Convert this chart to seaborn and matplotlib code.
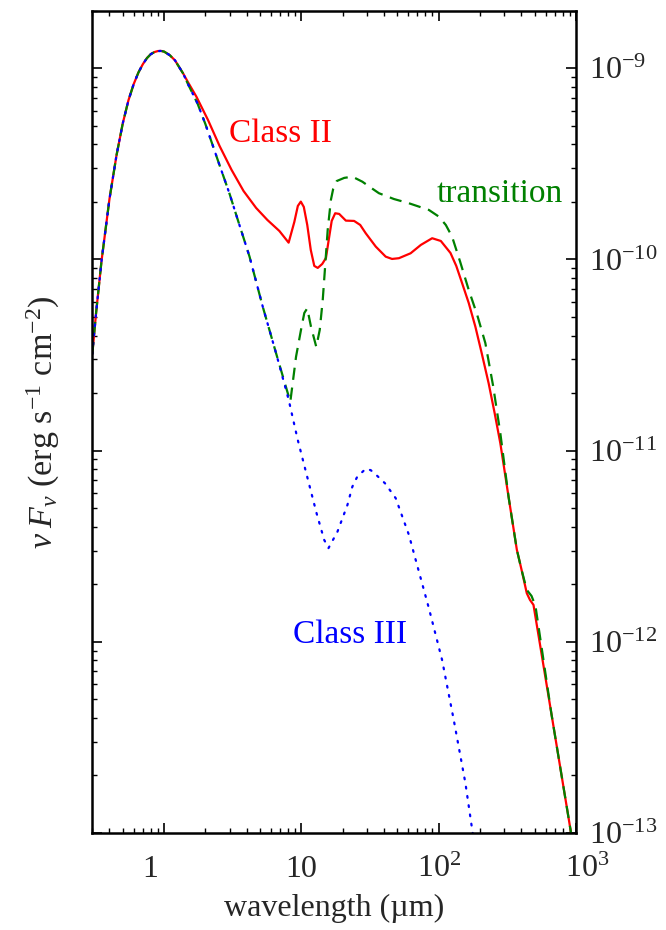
import matplotlib
matplotlib.use("Agg")
import numpy as np
import matplotlib.pyplot as plt
from matplotlib.ticker import FixedLocator, FixedFormatter, LogLocator, LogFormatterMathtext, NullFormatter
from matplotlib.transforms import ScaledTranslation
import seaborn as sns

# wavelength (um) / nu F_nu (erg s^-1 cm^-2)
# Class II (red, solid)
wl_ii = [0.30, 0.32, 0.35, 0.40, 0.45, 0.50, 0.55, 0.60, 0.65, 0.70, 0.75, 0.80, 0.85,
         0.90, 0.95, 1.00, 1.10, 1.20, 1.374, 1.5, 1.719, 2.086, 2.536, 3.10, 3.79, 4.68,
         5.65, 6.91, 8.07, 8.88, 9.42, 9.90, 10.41, 11.03, 11.70, 12.41, 13.15, 14.18,
         15.09, 15.81, 16.62, 17.62, 18.84, 21.07, 24.2, 26.8, 29.4, 34.8, 41.1, 45.7,
         51.3, 62.4, 74.1, 89.6, 103.6, 121.8, 134.2, 147.8, 165.4, 184.9, 205.5, 231,
         255.3, 281, 322.6, 370.7, 402.9, 438, 462, 490, 662, 920, 1000]
flux_ii = [3.2e-11, 5.3e-11, 9.8e-11, 2.07e-10, 3.5e-10, 5.15e-10, 6.8e-10, 8.25e-10,
           9.5e-10, 1.05e-9, 1.13e-9, 1.185e-9, 1.215e-9, 1.23e-9, 1.232e-9, 1.222e-9,
           1.17e-9, 1.1e-9, 9.41e-10, 8.4e-10, 7.10e-10, 5.37e-10, 3.92e-10, 2.94e-10,
           2.28e-10, 1.859e-10, 1.609e-10, 1.409e-10, 1.224e-10, 1.571e-10, 1.905e-10,
           2.006e-10, 1.882e-10, 1.515e-10, 1.121e-10, 9.25e-11, 9.03e-11, 9.47e-11,
           1.018e-10, 1.265e-10, 1.590e-10, 1.744e-10, 1.730e-10, 1.596e-10, 1.590e-10,
           1.515e-10, 1.371e-10, 1.167e-10, 1.034e-10, 1.006e-10, 1.015e-10, 1.077e-10,
           1.191e-10, 1.291e-10, 1.249e-10, 1.081e-10, 9.25e-11, 7.54e-11, 5.92e-11,
           4.45e-11, 3.24e-11, 2.25e-11, 1.575e-11, 1.093e-11, 5.73e-12, 3.03e-12,
           2.35e-12, 1.795e-12, 1.656e-12, 1.56e-12, 4.20e-13, 1.0e-13, 7.68e-14]

# transition disk (green, dashed)
wl_tr = [0.30, 0.32, 0.35, 0.40, 0.45, 0.50, 0.55, 0.60, 0.65, 0.70, 0.75, 0.80, 0.85,
         0.90, 0.95, 1.00, 1.10, 1.20, 1.374, 1.5, 1.75, 2.0, 2.5, 3.0, 3.5, 4.19, 5.23,
         6.54, 8.3, 9.14, 9.93, 10.50, 11.03, 11.74, 12.83, 13.60, 14.30, 14.91, 15.54,
         16.40, 17.04, 18.07, 20.5, 23.5, 27.8, 31.6, 36.7, 47.2, 60.7, 84.8, 100.2,
         112.6, 125.1, 143.4, 165.4, 190.6, 218.6, 249, 281, 322.6, 370.7, 402.9, 438,
         474, 506.5, 662, 920, 1000]
flux_tr = [3.2e-11, 5.3e-11, 9.8e-11, 2.07e-10, 3.5e-10, 5.15e-10, 6.8e-10, 8.25e-10,
           9.5e-10, 1.05e-9, 1.13e-9, 1.185e-9, 1.215e-9, 1.23e-9, 1.232e-9, 1.222e-9,
           1.17e-9, 1.1e-9, 9.4e-10, 8.2e-10, 6.55e-10, 5.1e-10, 3.2e-10, 2.2e-10,
           1.55e-10, 1.034e-10, 5.66e-11, 3.23e-11, 1.8e-11, 3.10e-11, 4.28e-11, 5.25e-11,
           5.55e-11, 4.45e-11, 3.49e-11, 4.28e-11, 6.14e-11, 9.36e-11, 1.426e-10, 2.05e-10,
           2.34e-10, 2.57e-10, 2.67e-10, 2.71e-10, 2.55e-10, 2.39e-10, 2.22e-10, 2.07e-10,
           1.967e-10, 1.815e-10, 1.675e-10, 1.515e-10, 1.316e-10, 9.7e-11, 6.93e-11,
           5.13e-11, 3.65e-11, 2.18e-11, 1.233e-11, 5.73e-12, 3.03e-12, 2.35e-12,
           1.868e-12, 1.738e-12, 1.54e-12, 4.20e-13, 1.0e-13, 7.68e-14]

# Class III (blue, dotted)
wl_iii = [0.30, 0.32, 0.35, 0.40, 0.45, 0.50, 0.55, 0.60, 0.65, 0.70, 0.75, 0.80, 0.85,
          0.90, 0.95, 1.00, 1.10, 1.20, 1.374, 1.5, 1.75, 2.0, 2.5, 3.0, 3.5, 4.19, 5.23,
          6.54, 8.07, 9.38, 10.98, 12.89, 14.66, 15.75, 18.31, 21.64, 23.5, 25.5, 29.5,
          32.0, 35.5, 40.6, 48.6, 54.3, 60.7, 65.9, 71.7, 78.0, 84.8, 105.8, 128.7,
          156.5, 176.8, 195]
flux_iii = [3.2e-11, 5.3e-11, 9.8e-11, 2.07e-10, 3.5e-10, 5.15e-10, 6.8e-10, 8.25e-10,
            9.5e-10, 1.05e-9, 1.13e-9, 1.185e-9, 1.215e-9, 1.23e-9, 1.232e-9, 1.222e-9,
            1.17e-9, 1.1e-9, 9.4e-10, 8.2e-10, 6.55e-10, 5.1e-10, 3.2e-10, 2.2e-10,
            1.55e-10, 1.034e-10, 5.66e-11, 3.23e-11, 1.85e-11, 1.147e-11, 7.37e-12,
            4.71e-12, 3.41e-12, 3.09e-12, 3.77e-12, 5.20e-12, 6.48e-12, 7.3e-12, 8.05e-12,
            7.9e-12, 7.4e-12, 6.75e-12, 5.64e-12, 4.52e-12, 3.62e-12, 2.91e-12, 2.33e-12,
            1.868e-12, 1.498e-12, 8.04e-13, 3.90e-13, 1.82e-13, 9.98e-14, 6.5e-14]

x_ticks = [1, 10, 100, 1000]
x_ticklabels = ["1", "10", r"$\mathdefault{10^{2}}$", r"$\mathdefault{10^{3}}$"]
y_ticks = [1e-13, 1e-12, 1e-11, 1e-10, 1e-9]


def main():
    sns.set_style("ticks")
    plt.rcParams["font.family"] = ["Liberation Serif", "DejaVu Serif"]
    plt.rcParams["mathtext.fontset"] = "custom"
    plt.rcParams["mathtext.rm"] = "Liberation Serif"
    plt.rcParams["mathtext.it"] = "Liberation Serif:italic"
    plt.rcParams["mathtext.bf"] = "Liberation Serif:bold"

    fig = plt.figure(figsize=(6.66, 9.30), dpi=100)
    ax = fig.add_axes([0.1386, 0.1043, 0.7263, 0.8842])

    sns.lineplot(x=wl_ii, y=flux_ii, color="red", lw=1.6, sort=False, estimator=None, ax=ax)
    sns.lineplot(x=wl_tr, y=flux_tr, color="green", lw=1.6, linestyle=(0, (5.5, 3.5)),
                 sort=False, estimator=None, ax=ax)
    sns.lineplot(x=wl_iii, y=flux_iii, color="blue", lw=1.6, linestyle=(0, (0.8, 3.4)),
                 dash_capstyle="round", sort=False, estimator=None, ax=ax)

    ax.set_xscale("log")
    ax.set_yscale("log")
    ax.set_xlim(0.3, 1000)
    ax.set_ylim(1e-13, 2e-9)

    ax.xaxis.set_major_locator(FixedLocator(x_ticks))
    ax.xaxis.set_major_formatter(FixedFormatter(x_ticklabels))
    ax.xaxis.set_minor_locator(LogLocator(base=10, subs=np.arange(2, 10)))
    ax.xaxis.set_minor_formatter(NullFormatter())
    ax.yaxis.set_major_locator(FixedLocator(y_ticks))
    ax.yaxis.set_major_formatter(LogFormatterMathtext())
    ax.yaxis.set_minor_locator(LogLocator(base=10, subs=np.arange(2, 10), numticks=20))
    ax.yaxis.set_minor_formatter(NullFormatter())

    ax.tick_params(which="both", direction="in", top=True, right=True,
                   labelleft=False, labelright=True, labelsize=23, color="black")
    ax.tick_params(which="major", length=7, width=1.2)
    ax.tick_params(which="minor", length=3.5, width=1.0)
    ax.tick_params(axis="x", which="major", pad=16)
    ax.tick_params(axis="y", which="major", pad=9)
    for s in ax.spines.values():
        s.set_linewidth(1.8)
        s.set_color("black")

    # the original places the "1" a bit left of its tick and 10^3 a bit right
    ticks = ax.xaxis.get_major_ticks()
    for tick, dx in [(ticks[0], -10), (ticks[3], 8)]:
        lab = tick.label1
        lab.set_transform(lab.get_transform() + ScaledTranslation(dx / 72, 0, fig.dpi_scale_trans))

    ax.set_xlabel("wavelength (µm)", fontsize=23, labelpad=7)
    ax.set_ylabel(r"$\nu\;F_\nu$ (erg s$^{-1}$ cm$^{-2}$)", fontsize=24.5, labelpad=22)

    ax.text(2.96, 4.13e-10, "Class II", color="red", fontsize=24, va="baseline")
    ax.text(96.9, 2.0e-10, "transition", color="green", fontsize=24, va="baseline")
    ax.text(8.63, 9.83e-13, "Class III", color="blue", fontsize=24, va="baseline")

    fig.savefig("out.png", dpi=100)


if __name__ == "__main__":
    main()
